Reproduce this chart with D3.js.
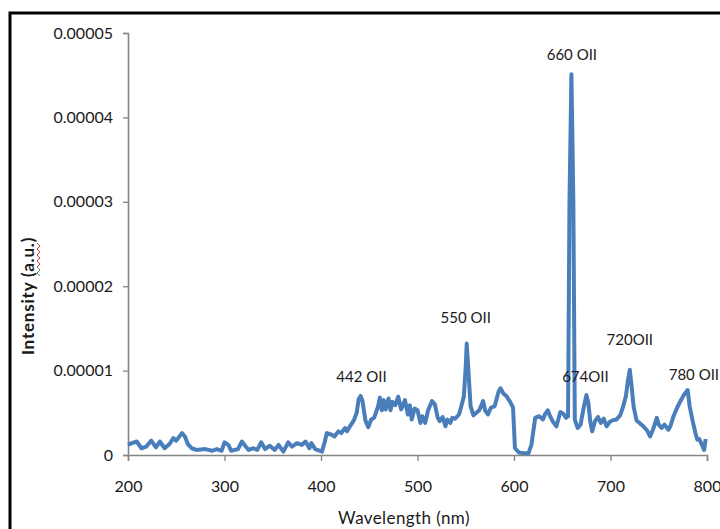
<!DOCTYPE html>
<html>
<head>
<meta charset="utf-8">
<script src="https://cdn.jsdelivr.net/npm/d3@7/dist/d3.min.js"></script>
<style>
    body { margin: 0; background: #fff; }
    svg text { font-family: Lato, "Open Sans", sans-serif; fill: #1a1a1a; }
</style>
</head>
<body>
<div id="chart"></div>
<script>
(function() {
    // wavelength (nm)
    var wavelengths = [200, 204, 209, 214, 219, 224, 229, 233, 238, 243, 247, 250, 254, 256, 259, 262, 266, 271, 280, 287,
        292, 297, 300, 304, 307, 314, 318, 322, 325, 330, 334, 338, 342, 347, 352, 356, 361, 366, 370, 375,
        380, 384, 388, 390, 394, 399, 401, 404, 406, 411, 414, 418, 421, 425, 427, 430, 434, 437, 439, 441,
        443, 446, 449, 452, 455, 459, 461, 463, 465, 467, 470, 472, 474, 477, 480, 483, 487, 490, 492, 494,
        497, 500, 503, 505, 508, 511, 515, 518, 521, 523, 526, 529, 531, 534, 536, 539, 543, 545, 548, 550,
        551, 553, 555, 558, 561, 564, 568, 570, 573, 576, 580, 584, 586, 589, 592, 596, 599, 601, 605, 610,
        615, 618, 622, 626, 630, 632, 635, 637, 640, 644, 648, 651, 654, 656, 657.5, 659.5, 661.5, 663, 666, 669,
        672, 675, 677, 679, 681, 684, 687, 690, 693, 696, 699, 702, 706, 710, 713, 716, 718, 720, 722, 724,
        727, 731, 734, 738, 741, 744, 748, 750, 753, 756, 760, 762, 765, 769, 773, 776, 780, 782, 785, 788,
        790, 792, 794, 797, 798.6];

    // intensity (a.u.), same order
    var intensities = [1.2e-6, 1.4e-6, 1.6e-6, 0.8e-6, 1.0e-6, 1.7e-6, 0.9e-6, 1.6e-6, 0.8e-6, 1.3e-6, 2.0e-6, 1.7e-6, 2.3e-6, 2.6e-6, 2.2e-6, 1.3e-6, 0.8e-6, 0.6e-6, 0.7e-6, 0.5e-6,
        0.7e-6, 0.5e-6, 1.5e-6, 1.2e-6, 0.5e-6, 0.7e-6, 1.6e-6, 1.0e-6, 0.6e-6, 0.8e-6, 0.6e-6, 1.5e-6, 0.7e-6, 1.1e-6, 0.6e-6, 1.2e-6, 0.4e-6, 1.5e-6, 1.0e-6, 1.4e-6,
        1.2e-6, 1.6e-6, 0.8e-6, 1.4e-6, 0.7e-6, 0.5e-6, 0.4e-6, 1.6e-6, 2.6e-6, 2.4e-6, 2.2e-6, 2.8e-6, 2.6e-6, 3.2e-6, 2.8e-6, 3.4e-6, 4.1e-6, 5.0e-6, 6.6e-6, 7.0e-6,
        6.4e-6, 4.1e-6, 3.3e-6, 4.2e-6, 4.4e-6, 5.7e-6, 6.8e-6, 5.3e-6, 6.5e-6, 5.4e-6, 6.7e-6, 5.3e-6, 6.3e-6, 5.9e-6, 6.9e-6, 5.4e-6, 6.5e-6, 4.8e-6, 5.9e-6, 4.2e-6,
        5.5e-6, 5.3e-6, 3.8e-6, 4.6e-6, 3.8e-6, 5.3e-6, 6.4e-6, 6.0e-6, 4.4e-6, 4.0e-6, 4.5e-6, 3.4e-6, 4.2e-6, 3.8e-6, 4.4e-6, 4.3e-6, 4.8e-6, 5.6e-6, 6.9e-6, 10.5e-6,
        13.2e-6, 9.5e-6, 5.8e-6, 4.7e-6, 5.0e-6, 5.3e-6, 6.4e-6, 5.3e-6, 4.8e-6, 5.6e-6, 5.8e-6, 7.5e-6, 7.9e-6, 7.3e-6, 7.0e-6, 6.3e-6, 5.6e-6, 0.8e-6, 0.3e-6, 0.2e-6,
        0.2e-6, 1.2e-6, 4.4e-6, 4.6e-6, 4.2e-6, 4.8e-6, 5.3e-6, 4.7e-6, 4.0e-6, 3.4e-6, 5.1e-6, 4.9e-6, 4.4e-6, 4.6e-6, 30e-6, 45.1e-6, 30e-6, 4.2e-6, 3.2e-6, 3.6e-6,
        5.5e-6, 7.1e-6, 6.2e-6, 4.0e-6, 2.8e-6, 4.0e-6, 4.5e-6, 3.8e-6, 4.3e-6, 3.4e-6, 3.9e-6, 4.1e-6, 4.2e-6, 4.7e-6, 5.7e-6, 7.0e-6, 8.8e-6, 10.1e-6, 8.0e-6, 5.7e-6,
        4.1e-6, 3.7e-6, 3.4e-6, 2.9e-6, 2.2e-6, 3.0e-6, 4.4e-6, 3.6e-6, 3.2e-6, 3.6e-6, 3.0e-6, 3.4e-6, 4.5e-6, 5.6e-6, 6.5e-6, 7.1e-6, 7.7e-6, 5.8e-6, 4.1e-6, 2.6e-6,
        1.8e-6, 1.9e-6, 1.4e-6, 0.6e-6, 1.9e-6];

    var xTicks = [200, 300, 400, 500, 600, 700, 800];
    var yTicks = [0, 0.00001, 0.00002, 0.00003, 0.00004, 0.00005];
    var yTickLabels = ["0", "0.00001", "0.00002", "0.00003", "0.00004", "0.00005"];

    var peakNames = ["442 OII", "550 OII", "660 OII", "674OII", "720OII", "780 OII"];
    var peakX = [442, 550, 660, 674, 720, 780];
    var peakY = [0.0000086, 0.0000156, 0.0000468, 0.0000086, 0.0000130, 0.0000089];

    var width = 720, height = 529;
    var margin = {left: 128, top: 33, right: 13, bottom: 74};

    var data = wavelengths.map(function(w, i) { return {x: w, y: intensities[i]}; });

    var xScale = d3.scaleLinear().domain([200, 800]).range([margin.left, width - margin.right]);
    var yScale = d3.scaleLinear().domain([0, 0.00005]).range([height - margin.bottom, margin.top]);

    var svg = d3.select("#chart")
        .append("svg")
        .attr("width", width)
        .attr("height", height);

    // outer frame, right and bottom edges run off the picture
    svg.append("rect")
        .attr("x", 10).attr("y", 13)
        .attr("width", 720).attr("height", 530)
        .attr("fill", "none")
        .attr("stroke", "#000")
        .attr("stroke-width", 3);

    // y axis
    var yAxis = svg.append("g")
        .attr("transform", "translate(" + margin.left + ",0)")
        .call(d3.axisLeft(yScale).tickValues(yTicks).tickSize(5).tickPadding(10)
            .tickFormat(function(d, i) { return yTickLabels[i]; }));

    // x axis
    var xAxis = svg.append("g")
        .attr("transform", "translate(0," + yScale(0) + ")")
        .call(d3.axisBottom(xScale).tickValues(xTicks).tickSize(6).tickPadding(20)
            .tickFormat(d3.format("d")));

    [yAxis, xAxis].forEach(function(ax) {
        ax.select(".domain").attr("stroke", "#858585").attr("stroke-width", 1.6);
        ax.selectAll(".tick line").attr("stroke", "#858585").attr("stroke-width", 1.3);
        ax.selectAll(".tick text").style("font-size", "16px").attr("fill", "#1a1a1a");
    });

    var line = d3.line()
        .x(function(d) { return xScale(d.x); })
        .y(function(d) { return yScale(d.y); });

    svg.append("path")
        .datum(data)
        .attr("fill", "none")
        .attr("stroke", "#4a7ebb")
        .attr("stroke-width", 4)
        .attr("stroke-linejoin", "round")
        .attr("d", line);

    // peak labels
    svg.selectAll(".peak")
        .data(peakNames)
        .enter()
        .append("text")
        .attr("class", "peak")
        .attr("x", function(d, i) { return i === 5 ? xScale(peakX[i]) - 19 : xScale(peakX[i]); })
        .attr("y", function(d, i) { return yScale(peakY[i]); })
        .attr("text-anchor", function(d, i) { return i === 5 ? "start" : "middle"; })
        .style("font-size", "15px")
        .text(function(d) { return d; });

    // axis titles
    svg.append("text")
        .attr("x", 404).attr("y", 524)
        .attr("text-anchor", "middle")
        .style("font-size", "17px")
        .style("letter-spacing", "0.4px")
        .text("Wavelength (nm)");

    svg.append("text")
        .attr("transform", "translate(34,296) rotate(-90)")
        .attr("text-anchor", "middle")
        .style("font-size", "17px")
        .style("font-weight", "bold")
        .style("letter-spacing", "0.8px")
        .text("Intensity (a.u.)");

    // spell-check squiggles under "a.u."
    var squiggle = d3.line().curve(d3.curveLinear);
    var redPts = [], greenPts = [];
    for (var k = 0; k <= 8; k++) {
        redPts.push([k % 2 === 0 ? 37 : 40, 243 + k * 3]);
    }
    for (var m = 0; m <= 3; m++) {
        greenPts.push([m % 2 === 0 ? 37 : 40, 267 + m * 3]);
    }
    svg.append("path").attr("d", squiggle(redPts)).attr("fill", "none").attr("stroke", "#e03030").attr("stroke-width", 1);
    svg.append("path").attr("d", squiggle(greenPts)).attr("fill", "none").attr("stroke", "#3a9a3a").attr("stroke-width", 1);
})();
</script>
</body>
</html>
